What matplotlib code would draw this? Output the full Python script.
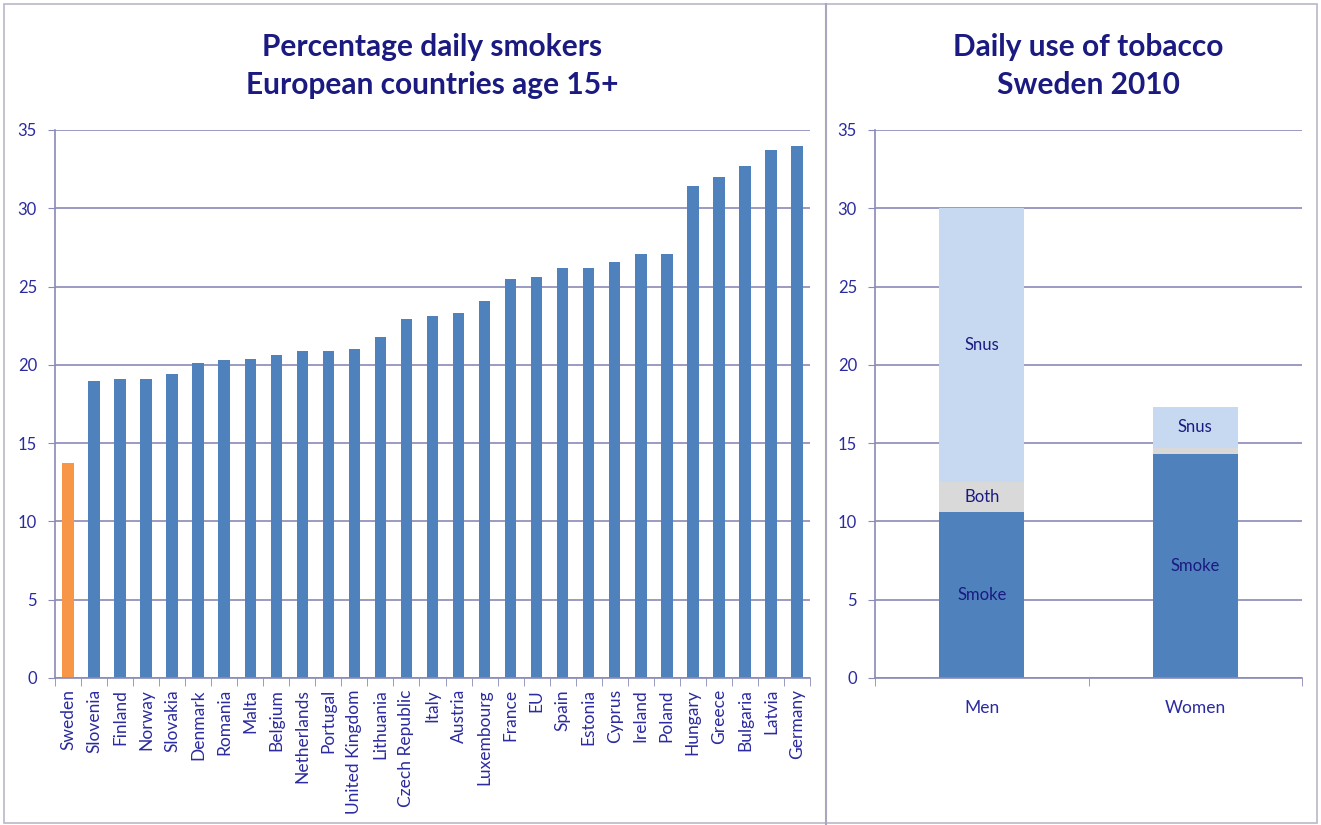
import numpy as np
import matplotlib.pyplot as plt
from matplotlib.lines import Line2D
from matplotlib.patches import Rectangle

countries = ['Sweden', 'Slovenia', 'Finland', 'Norway', 'Slovakia', 'Denmark', 'Romania',
             'Malta', 'Belgium', 'Netherlands', 'Portugal', 'United Kingdom', 'Lithuania',
             'Czech Republic', 'Italy', 'Austria', 'Luxembourg', 'France', 'EU', 'Spain',
             'Estonia', 'Cyprus', 'Ireland', 'Poland', 'Hungary', 'Greece', 'Bulgaria',
             'Latvia', 'Germany']
smokers = [13.7, 19.0, 19.1, 19.1, 19.4, 20.1, 20.3, 20.4, 20.6, 20.9, 20.9, 21.0, 21.8,
           22.9, 23.1, 23.3, 24.1, 25.5, 25.6, 26.2, 26.2, 26.6, 27.1, 27.1, 31.4, 32.0,
           32.7, 33.7, 34.0]

groups = ['Men', 'Women']
smoke = [10.6, 14.3]
both = [1.9, 0.4]
snus = [17.5, 2.6]

plt.rcParams['font.family'] = ['Lato', 'DejaVu Sans']
navy = '#1A1A80'
tick_col = '#2B2BA0'
grid_col = '#8A8AB8'
blue = '#4F81BD'

fig = plt.figure(figsize=(13.21, 8.25), dpi=100)

# frame and divider
fig.add_artist(Rectangle((0.003, 0.002), 0.994, 0.993, transform=fig.transFigure,
                         fill=False, edgecolor='#B8B8C8', lw=1.2))
fig.add_artist(Line2D([826 / 1321, 826 / 1321], [0.0, 0.995], transform=fig.transFigure,
                      color='#A8A8BC', lw=1.5))

def style_axis(ax):
    ax.set_ylim(0, 35)
    ax.set_yticks(range(0, 36, 5))
    ax.yaxis.grid(True, color=grid_col, lw=1.2)
    ax.set_axisbelow(True)
    for s in ['top', 'right']:
        ax.spines[s].set_visible(False)
    ax.spines['left'].set_color(grid_col)
    ax.spines['bottom'].set_color(grid_col)
    ax.spines['left'].set_linewidth(1.2)
    ax.spines['bottom'].set_linewidth(1.2)
    ax.tick_params(axis='y', colors=grid_col, labelcolor=tick_col, labelsize=12,
                   length=5, pad=8)
    ax.tick_params(axis='x', which='major', length=0, labelcolor=tick_col, labelsize=12.5,
                   pad=8)
    ax.tick_params(axis='x', which='minor', length=6, color=grid_col, direction='out')

# left chart
ax1 = fig.add_axes([55 / 1321, 147 / 825, 755 / 1321, 548 / 825])
x = np.arange(len(countries))
colors = ['#F79646'] + [blue] * (len(countries) - 1)
ax1.bar(x, smokers, width=0.44, color=colors)
ax1.set_xlim(-0.5, len(countries) - 0.5)
style_axis(ax1)
ax1.set_xticks(x)
ax1.set_xticklabels(countries, rotation=90)
ax1.set_xticks(np.arange(-0.5, len(countries), 1), minor=True)
ax1.set_title('Percentage daily smokers\nEuropean countries age 15+', fontsize=21.5,
              fontweight='bold', color=navy, pad=26, linespacing=1.45)

# right chart
ax2 = fig.add_axes([875 / 1321, 147 / 825, 427 / 1321, 548 / 825])
xg = np.arange(len(groups))
b1 = ax2.bar(xg, smoke, width=0.4, color=blue)
b2 = ax2.bar(xg, both, width=0.4, bottom=smoke, color='#D9D9D9')
bottom2 = [s + b for s, b in zip(smoke, both)]
b3 = ax2.bar(xg, snus, width=0.4, bottom=bottom2, color='#C6D9F1')
ax2.set_xlim(-0.5, len(groups) - 0.5)
style_axis(ax2)
ax2.set_xticks(xg)
ax2.set_xticklabels(groups)
ax2.tick_params(axis='x', which='major', pad=16)
ax2.set_xticks(np.arange(-0.5, len(groups), 1), minor=True)
ax2.set_title('Daily use of tobacco\nSweden 2010', fontsize=21.5,
              fontweight='bold', color=navy, pad=26, linespacing=1.45)

ax2.bar_label(b1, labels=['Smoke', 'Smoke'], label_type='center', color=navy, fontsize=12)
ax2.bar_label(b2, labels=['Both', ''], label_type='center', color=navy, fontsize=12)
ax2.bar_label(b3, labels=['Snus', 'Snus'], label_type='center', color=navy, fontsize=12)

fig.savefig('out.png', dpi=100, facecolor='white')
